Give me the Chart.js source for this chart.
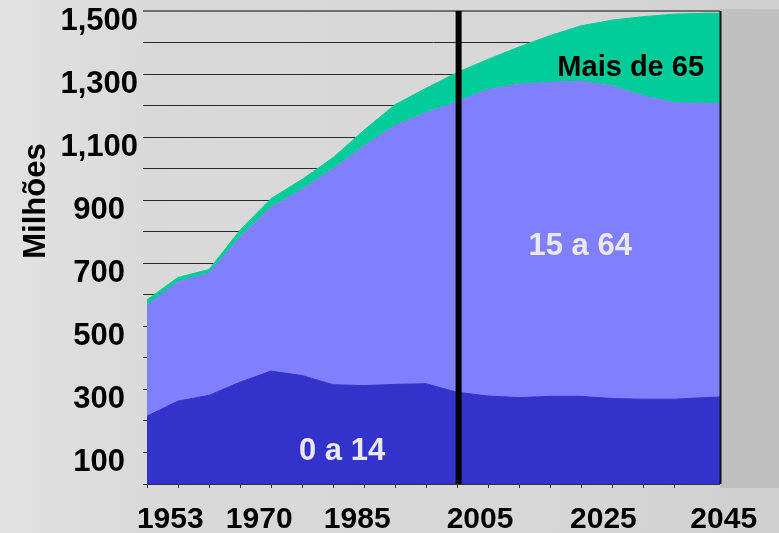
<!DOCTYPE html>
<html lang="pt">
<head>
<meta charset="UTF-8">
<title>População por faixa etária</title>
<script src="https://cdn.jsdelivr.net/npm/chart.js@4.4.1/dist/chart.umd.min.js"></script>
<style>
    html, body { margin: 0; padding: 0; }
    body {
        width: 779px;
        height: 533px;
        overflow: hidden;
        background: linear-gradient(to right, #e2e2e2 0%, #d9d9d9 20%, #d7d7d7 70%, #cfcfcf 100%);
    }
    #chart { display: block; }
</style>
</head>
<body>
<canvas id="chart" width="779" height="533"></canvas>
<script>
    // Population by age group (millions)
    const years      = [1950, 1955, 1960, 1965, 1970, 1975, 1980, 1985, 1990, 1995, 2000, 2005, 2010, 2015, 2020, 2025, 2030, 2035, 2040, 2045];
    const age0to14   = [215, 263, 281, 323, 358, 344, 315, 312, 316, 318, 291, 279, 274, 278, 278, 271, 269, 269, 274, 278];
    const age15to64  = [352, 378, 387, 460, 520, 590, 684, 760, 821, 859, 921, 972, 994, 996, 1000, 991, 962, 940, 933, 929];
    const age65plus  = [17, 14, 12, 22, 27, 32, 36, 50, 66, 78, 93, 96, 118, 148, 175, 209, 251, 281, 286, 286];

    const seriesNames = ['0 a 14', '15 a 64', 'Mais de 65'];
    const yLabelValues = [100, 300, 500, 700, 900, 1100, 1300, 1500];
    const yearLabels = ['1953', '1970', '1985', '2005', '2025', '2045'];
    const yearLabelAt = [1953.75, 1968.1, 1983.9, 2003.7, 2023.6, 2043];
    const dividerYear = 2000.25;

    const FONT = '"Liberation Sans", Arial, Helvetica, sans-serif';

    function fmt(v) {
        return String(v).replace(/\B(?=(\d{3})+(?!\d))/g, ',');
    }

    function points(values) {
        return years.map((yr, i) => ({ x: yr, y: values[i] }));
    }

    // panel on the right, divider line, in-chart labels and axis texts
    const overlay = {
        id: 'overlay',
        afterDatasetsDraw(chart) {
            const { ctx, chartArea: a, scales: { x, y } } = chart;
            ctx.save();

            ctx.fillStyle = '#c0c0c0';
            ctx.fillRect(a.right, a.top - 2, chart.width - a.right, a.bottom - a.top + 6);

            ctx.strokeStyle = '#111';
            ctx.lineWidth = 2;
            ctx.beginPath();
            ctx.moveTo(a.right + 0.5, a.top);
            ctx.lineTo(a.right + 0.5, a.bottom);
            ctx.stroke();

            const dx = x.getPixelForValue(dividerYear);
            ctx.strokeStyle = '#000';
            ctx.lineWidth = 6;
            ctx.beginPath();
            ctx.moveTo(dx, a.top);
            ctx.lineTo(dx, a.bottom);
            ctx.stroke();

            ctx.textAlign = 'center';
            ctx.textBaseline = 'alphabetic';
            const notes = [
                { text: seriesNames[0], yr: 1981.45, val: 75, color: '#e8e8ee', size: 31 },
                { text: seriesNames[1], yr: 2019.85, val: 725, color: '#e8e8ee', size: 31 },
                { text: seriesNames[2], yr: 2028.0, val: 1294, color: '#000', size: 29 }
            ];
            notes.forEach(n => {
                ctx.font = 'bold ' + n.size + 'px ' + FONT;
                ctx.fillStyle = n.color;
                ctx.fillText(n.text, x.getPixelForValue(n.yr), y.getPixelForValue(n.val));
            });

            ctx.font = 'bold 30px ' + FONT;
            ctx.fillStyle = '#000';
            yearLabels.forEach((t, i) => {
                ctx.fillText(t, x.getPixelForValue(yearLabelAt[i]), 528);
            });

            ctx.translate(45, 201);
            ctx.rotate(-Math.PI / 2);
            ctx.font = 'bold 31px ' + FONT;
            ctx.fillText('Milhões', 0, 0);

            ctx.restore();
        }
    };

    new Chart(document.getElementById('chart'), {
        type: 'line',
        data: {
            datasets: [
                {
                    label: seriesNames[0],
                    data: points(age0to14),
                    backgroundColor: '#3333cc',
                    borderColor: '#3333cc',
                    borderWidth: 1,
                    fill: 'origin'
                },
                {
                    label: seriesNames[1],
                    data: points(age15to64),
                    backgroundColor: '#8080ff',
                    borderColor: '#8080ff',
                    borderWidth: 1,
                    fill: '-1'
                },
                {
                    label: seriesNames[2],
                    data: points(age65plus),
                    backgroundColor: '#00cc99',
                    borderColor: '#00cc99',
                    borderWidth: 1,
                    fill: '-1'
                }
            ]
        },
        options: {
            responsive: false,
            devicePixelRatio: 1,
            animation: false,
            layout: { padding: { top: 11, right: 59, bottom: 0, left: 0 } },
            elements: { point: { radius: 0 }, line: { tension: 0 } },
            plugins: {
                legend: { display: false },
                tooltip: { enabled: false }
            },
            scales: {
                x: {
                    type: 'linear',
                    min: 1950,
                    max: 2042.4,
                    ticks: { stepSize: 5, display: false },
                    grid: { drawOnChartArea: false, drawTicks: true, tickLength: 4, color: '#333' },
                    border: { display: true, color: '#333' },
                    afterFit(s) {
                        s.height = 49;
                        s.paddingLeft = 0;
                        s.paddingRight = 0;
                    }
                },
                y: {
                    stacked: true,
                    min: 0,
                    max: 1500,
                    ticks: {
                        stepSize: 100,
                        autoSkip: false,
                        padding: 5,
                        crossAlign: 'center',
                        labelOffset: 10,
                        color: '#000',
                        font: { family: FONT, size: 31, weight: 'bold' },
                        callback: v => yLabelValues.includes(v) ? fmt(v) : ''
                    },
                    grid: {
                        tickLength: 4,
                        color: c => c.tick && c.tick.value === 1500 ? '#707070' : '#2a2a2a',
                        lineWidth: c => c.tick && c.tick.value === 1500 ? 2 : 1
                    },
                    border: { display: false },
                    afterFit(s) {
                        s.width = 147;
                        s.paddingTop = 0;
                        s.paddingBottom = 0;
                    }
                }
            }
        },
        plugins: [overlay]
    });
</script>
</body>
</html>
